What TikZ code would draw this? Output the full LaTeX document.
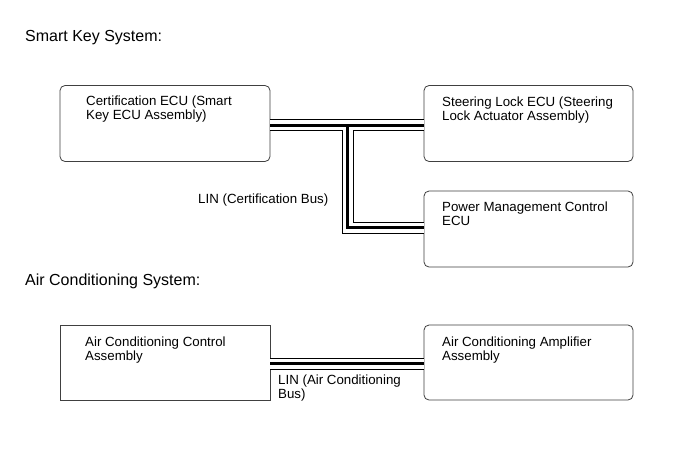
\documentclass[tikz,border=0pt]{standalone}
\usepackage{fontspec}
\setmainfont{Liberation Sans}
\usetikzlibrary{positioning}

\begin{document}
\begin{tikzpicture}[x=1pt,y=-1pt,
  ecu/.style={draw=black!75,line width=0.8pt,rounded corners=5pt,inner sep=0pt,outer sep=0pt},
  ecusharp/.style={draw=black!75,line width=0.8pt,inner sep=0pt,outer sep=0pt},
  txt/.style={font=\fontsize{13.3}{14.5}\selectfont,align=left,anchor=base west,inner sep=0pt},
  head/.style={font=\fontsize{16}{18}\selectfont,anchor=base west,inner sep=0pt},
  busout/.style={line width=12pt},
  busgap/.style={white,line width=10pt},
  buscore/.style={line width=3pt}]
  \useasboundingbox[fill=white] (0,0) rectangle (691,467);

  % Smart key system (two-line texts sit on their second baseline)
  \node[head] (smarthead) at (25,41) {Smart Key System:};
  \node[ecu,minimum width=210pt,minimum height=76pt] (cert) at (165,123.5) {};
  \node[ecu,minimum width=209pt,minimum height=76pt] (steer) at (528.5,123.5) {};
  \node[ecu,minimum width=209pt,minimum height=76pt] (pm) at (528.5,229) {};
  \node[txt] (certtxt) at (86,119.5) {Certification ECU (Smart\\Key ECU Assembly)};
  \node[txt] (steertxt) at (442,120.5) {Steering Lock ECU (Steering\\Lock Actuator Assembly)};
  \node[txt] (pmtxt) at (442,225.5) {Power Management Control\\ECU};
  \node[txt] (linone) at (198,203) {LIN (Certification Bus)};
  \coordinate (tee) at (347.5,125);

  % Air conditioning system
  \node[head] (achead) at (25,285) {Air Conditioning System:};
  \node[ecusharp,minimum width=210pt,minimum height=75pt] (acc) at (165,362.5) {};
  \node[ecu,minimum width=209pt,minimum height=75pt] (aca) at (528.5,362.5) {};
  \node[txt] (acctxt) at (85,360.5) {Air Conditioning Control\\Assembly};
  \node[txt] (acatxt) at (442,360.5) {Air Conditioning Amplifier\\Assembly};
  \node[txt] (lintwo) at (278,398.5) {LIN (Air Conditioning\\Bus)};

  % LIN buses, drawn as three layers
  \foreach \layer in {busout,busgap,buscore}{
    \draw[\layer] (cert.east |- tee) -- (steer.west |- tee);
    \draw[\layer] (tee) -- (tee |- 0,227.5) -- (pm.west |- 0,227.5);
    \draw[\layer] (acc.east |- 0,363.5) -- (aca.west |- 0,363.5);
  }
\end{tikzpicture}
\end{document}
